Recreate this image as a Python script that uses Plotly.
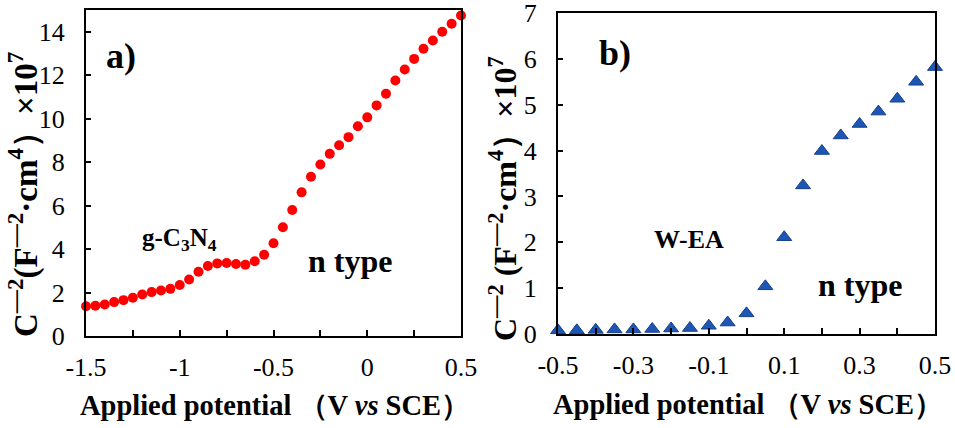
import plotly.graph_objects as go

# Panel a: g-C3N4
xa = [-1.50, -1.45, -1.40, -1.35, -1.30, -1.25, -1.20, -1.15, -1.10, -1.05,
      -1.00, -0.95, -0.90, -0.85, -0.80, -0.75, -0.70, -0.65, -0.60, -0.55,
      -0.50, -0.45, -0.40, -0.35, -0.30, -0.25, -0.20, -0.15, -0.10, -0.05,
      0.00, 0.05, 0.10, 0.15, 0.20, 0.25, 0.30, 0.35, 0.40, 0.45, 0.50]
ya = [1.37, 1.39, 1.45, 1.56, 1.65, 1.76, 1.91, 2.02, 2.09, 2.17,
      2.35, 2.60, 2.96, 3.22, 3.34, 3.36, 3.31, 3.28, 3.44, 3.74,
      4.27, 5.00, 5.80, 6.61, 7.33, 7.89, 8.38, 8.78, 9.15, 9.65,
      10.06, 10.61, 11.15, 11.76, 12.26, 12.75, 13.22, 13.60, 14.00, 14.37, 14.75]

# Panel b: W-EA
xb = [-0.50, -0.45, -0.40, -0.35, -0.30, -0.25, -0.20, -0.15, -0.10, -0.05,
      0.00, 0.05, 0.10, 0.15, 0.20, 0.25, 0.30, 0.35, 0.40, 0.45, 0.50]
yb = [0.08, 0.08, 0.09, 0.10, 0.10, 0.11, 0.12, 0.13, 0.18, 0.25,
      0.45, 1.04, 2.11, 3.24, 3.99, 4.33, 4.58, 4.85, 5.13, 5.50, 5.82]

xticks_a = [-1.5, -1, -0.5, 0, 0.5]
xticklabels_a = ["-1.5", "-1", "-0.5", "0", "0.5"]
xticks_b = [-0.5, -0.3, -0.1, 0.1, 0.3, 0.5]
xticklabels_b = ["-0.5", "-0.3", "-0.1", "0.1", "0.3", "0.5"]

W, H = 955, 428
FONT = "Liberation Serif"

fig = go.Figure()
fig.add_trace(go.Scatter(x=xa, y=ya, mode="markers", xaxis="x", yaxis="y",
                         marker=dict(color="#ff0000", size=10, line=dict(width=0)),
                         cliponaxis=False, showlegend=False))
fig.add_trace(go.Scatter(x=xb, y=yb, mode="markers", xaxis="x2", yaxis="y2",
                         marker=dict(color="#1d56b5", size=13, symbol="triangle-up",
                                     line=dict(color="#16418a", width=1)),
                         cliponaxis=False, showlegend=False))

def px(x):
    return x / W

def py(y):
    return 1 - y / H

axis_common = dict(showline=True, linecolor="black", linewidth=2, mirror=True,
                   showgrid=False, zeroline=False, ticks="inside", tickcolor="black",
                   tickwidth=2, automargin=False, ticklabeloverflow="allow",
                   tickfont=dict(family=FONT, size=26, color="black"))

fig.update_layout(
    template="none",
    width=W, height=H, margin=dict(l=0, r=0, t=0, b=0, pad=0),
    paper_bgcolor="white", plot_bgcolor="white",
    font=dict(family=FONT, color="black"),
    xaxis=dict(domain=[px(86), px(461)], range=[-1.5, 0.5], anchor="y",
               tickvals=xticks_a, ticktext=xticklabels_a, ticklen=6,
               ticklabelstandoff=7,
               minor=dict(dtick=0.25, tick0=-1.5, ticks="inside", ticklen=6,
                          tickcolor="black", tickwidth=2, showgrid=False),
               **axis_common),
    yaxis=dict(domain=[py(336), py(10)], range=[0, 15], anchor="x",
               dtick=2, tick0=0, ticklen=5, ticklabelstandoff=14, **axis_common),
    xaxis2=dict(domain=[px(558), px(935)], range=[-0.5, 0.5], anchor="y2",
                tickvals=xticks_b, ticktext=xticklabels_b, ticklen=6,
                ticklabelstandoff=7,
                minor=dict(dtick=0.1, tick0=-0.5, ticks="inside", ticklen=6,
                           tickcolor="black", tickwidth=2, showgrid=False),
                **axis_common),
    yaxis2=dict(domain=[py(334), py(13)], range=[0, 7], anchor="x2",
                dtick=1, tick0=0, ticklen=5, ticklabelstandoff=14, **axis_common),
)

ytitle_a = "C<sup>\u20142</sup>(F<sup>\u20142</sup>\u00b7cm<sup>4</sup>\uff09\u00d710<sup>7</sup>"
ytitle_b = "C<sup>\u20142</sup> (F<sup>\u20142</sup>\u00b7cm<sup>4</sup>\uff09\u00d710<sup>7</sup>"
xtitle = "Applied potential \uff08V <i>vs</i> SCE\uff09"

ann = [
    dict(text="<b>" + ytitle_a + "</b>", x=px(23), y=py(195), textangle=-90, size=33),
    dict(text="<b>" + ytitle_b + "</b>", x=px(503), y=py(199), textangle=-90, size=32),
    dict(text="<b>" + xtitle + "</b>", x=px(275), y=py(405), textangle=0, size=28.5),
    dict(text="<b>" + xtitle + "</b>", x=px(748), y=py(404), textangle=0, size=28.5),
    dict(text="<b>a)</b>", x=px(121), y=py(56), textangle=0, size=36),
    dict(text="<b>b)</b>", x=px(615), y=py(53), textangle=0, size=36),
    dict(text="<b>g-C<sub>3</sub>N<sub>4</sub></b>", x=px(179), y=py(240), textangle=0, size=25),
    dict(text="<b>n type</b>", x=px(350), y=py(261), textangle=0, size=32),
    dict(text="<b>W-EA</b>", x=px(689), y=py(240), textangle=0, size=26),
    dict(text="<b>n type</b>", x=px(860), y=py(285), textangle=0, size=32),
]
for a in ann:
    fig.add_annotation(text=a["text"], x=a["x"], y=a["y"], xref="paper", yref="paper",
                       xanchor="center", yanchor="middle", showarrow=False,
                       textangle=a["textangle"],
                       font=dict(family=FONT, size=a["size"], color="black"))

fig.write_html("out.html")
